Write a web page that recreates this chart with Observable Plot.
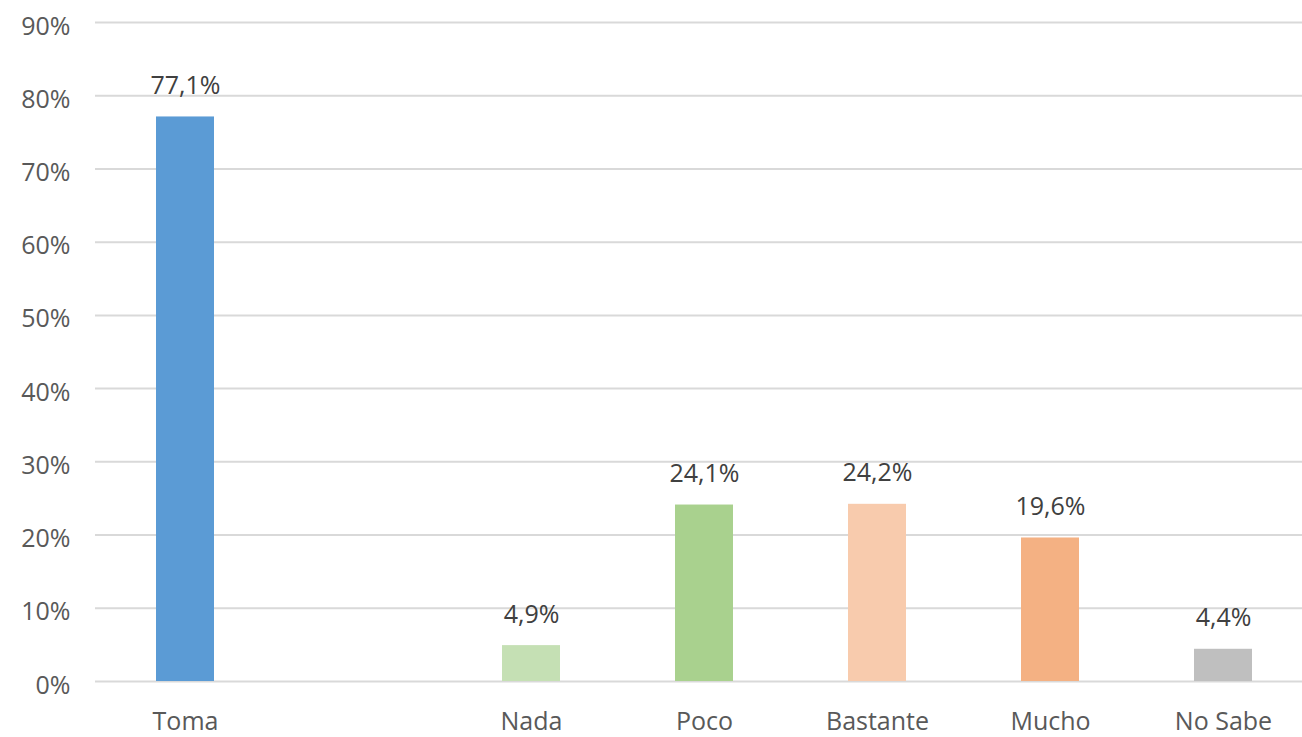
<!DOCTYPE html>
<html>
<head>
<meta charset="utf-8">
<script src="https://cdn.jsdelivr.net/npm/d3@7"></script>
<script src="https://cdn.jsdelivr.net/npm/@observablehq/plot@0.6"></script>
<style>
  html, body { margin: 0; padding: 0; background: #fff; }
  #chart { width: 1302px; height: 737px; overflow: hidden; }
</style>
</head>
<body>
<div id="chart"></div>
<script>
const categories = ["Toma", "Nada", "Poco", "Bastante", "Mucho", "No Sabe"];
const values = [77.1, 4.9, 24.1, 24.2, 19.6, 4.4];
const xSlots = ["Toma", "", "Nada", "Poco", "Bastante", "Mucho", "No Sabe"];
const barColors = ["#5b9bd5", "#c5e0b4", "#a9d18e", "#f8cbad", "#f4b183", "#bfbfbf"];
const yTicks = [0, 10, 20, 30, 40, 50, 60, 70, 80, 90];

const data = categories.map((c, i) => ({cat: c, value: values[i], color: barColors[i]}));
const fmt = v => v.toFixed(1).replace(".", ",") + "%";

const chart = Plot.plot({
  width: 1302,
  height: 737,
  marginLeft: 95,
  marginRight: 0,
  marginTop: 22,
  marginBottom: 56,
  style: {fontFamily: "'Open Sans', sans-serif", background: "#fff"},
  x: {domain: xSlots, range: [97.3, 1310.6], paddingInner: 0.665, paddingOuter: 0.3325, label: null},
  y: {domain: [0, 90], label: null},
  marks: [
    Plot.ruleY(yTicks, {stroke: "#d9d9d9", strokeWidth: 2}),
    Plot.barY(data, {x: "cat", y: "value", fill: "color"}),
    Plot.text(data, {x: "cat", y: "value", text: d => fmt(d.value), dy: -23, lineAnchor: "bottom", fill: "#404040", fontSize: 25, style: "letter-spacing:1.5px"}),
    Plot.axisY(yTicks, {tickSize: 0, tickPadding: 25, dy: 4, tickFormat: d => d + "%", fontSize: 25, color: "#595959", label: null, style: "letter-spacing:1.5px"}),
    Plot.axisX(categories, {tickSize: 0, tickPadding: 31, fontSize: 25, color: "#595959", label: null, style: "letter-spacing:1.5px"})
  ]
});
document.getElementById("chart").append(chart);
</script>
</body>
</html>
